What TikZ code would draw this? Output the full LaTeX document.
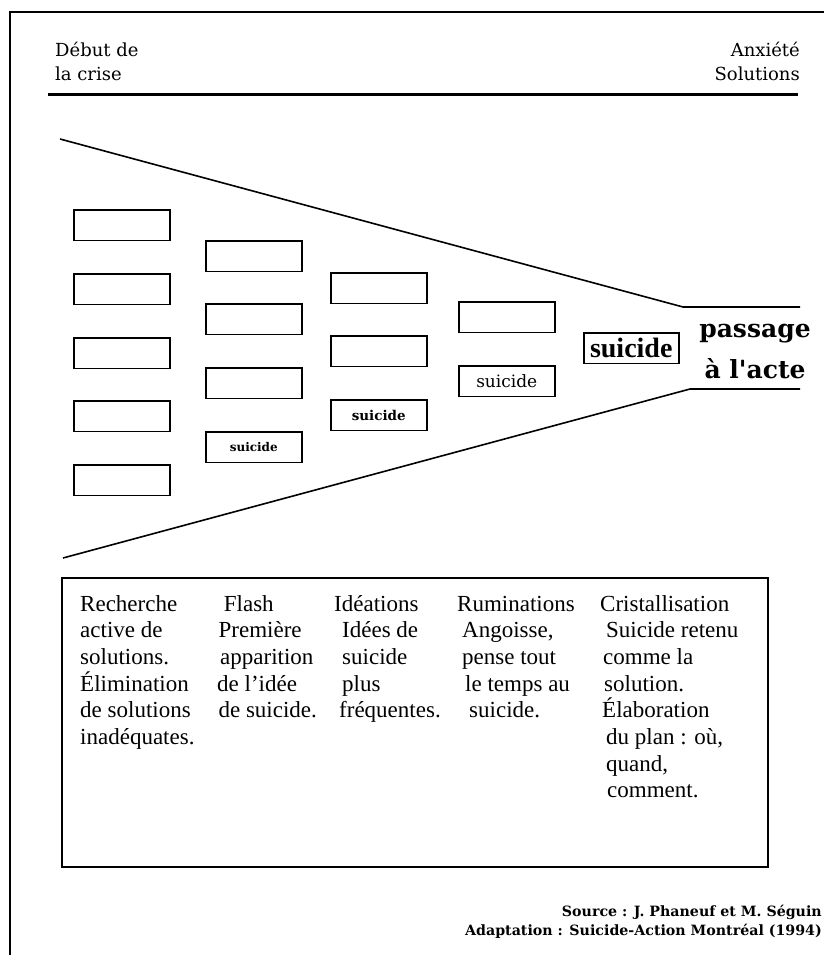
\documentclass[tikz,border=0pt]{standalone}
\usepackage{fontspec}
\setmainfont{Liberation Serif}
\newfontfamily\dvserif{DejaVu Serif}
\begin{document}
\begin{tikzpicture}[x=1pt,y=-1pt,
  choix/.style={draw,line width=1.5pt,minimum width=96pt,minimum height=30.5pt,inner sep=0pt,anchor=north west},
  etape/.style={anchor=base west,align=left,inner sep=0pt,font=\fontsize{23}{26.7}\selectfont},
  entete/.style={inner sep=0pt,font=\dvserif\fontsize{18}{24}\selectfont},
  pied/.style={anchor=base east,inner sep=0pt,font=\dvserif\bfseries\fontsize{14.2}{18}\selectfont}]
\useasboundingbox (0,0) rectangle (824,955);

\draw[line width=1.2pt] (10,955) -- (10,12) -- (824,12);

\node[entete,anchor=base west,align=left] (debut) at (55,81) {Début de\\la crise};
\node[entete,anchor=base east,align=right] (anxiete) at (800,81) {Anxiété\\Solutions};
\draw[line width=3pt] (48,95) -- (798,95);

\coordinate (ht) at (60,139);
\coordinate (hc) at (683,307);
\coordinate (hf) at (800,307);
\coordinate (bt) at (63,558);
\coordinate (bc) at (690,389);
\coordinate (bf) at (800,389);
\draw[line width=1.6pt] (ht) -- (hc) -- (hf);
\draw[line width=1.6pt] (bt) -- (bc) -- (bf);

\node[choix] (a1) at (73,209) {};
\node[choix] (a2) at (73,273) {};
\node[choix] (a3) at (73,337) {};
\node[choix] (a4) at (73,400) {};
\node[choix] (a5) at (73,464) {};

\node[choix] (b1) at (205,240) {};
\node[choix] (b2) at (205,303) {};
\node[choix] (b3) at (205,367) {};
\node[choix,font=\dvserif\bfseries\fontsize{12}{14}\selectfont] (b4) at (205,431) {suicide};

\node[choix] (c1) at (330,272) {};
\node[choix] (c2) at (330,335) {};
\node[choix,font=\dvserif\bfseries\fontsize{13.5}{16}\selectfont] (c3) at (330,399) {suicide};

\node[choix] (d1) at (458,301) {};
\node[choix,font=\dvserif\fontsize{17}{20}\selectfont] (d2) at (458,365) {suicide};

\node[choix,minimum width=95pt,font=\bfseries\fontsize{28}{30}\selectfont] (e1) at (583,332) {suicide};

\node[inner sep=0pt,anchor=base,align=center,font=\dvserif\bfseries\fontsize{25}{41}\selectfont] (acte) at (755,378) {passage\\à l\textquotesingle acte};

\node[draw,line width=1.5pt,minimum width=706pt,minimum height=289pt,inner sep=0pt,anchor=north west] (cadre) at (61,577) {};

\node[etape] (recherche) at (80,744.5) {Recherche\\active de\\solutions.\\Élimination\\de solutions\\inadéquates.};
\node[etape] (flash) at (217,717.8) {\hspace*{6.7pt}Flash\\\hspace*{1.4pt}Première\\\hspace*{3pt}apparition\\de l’idée\\\hspace*{1.4pt}de suicide.};
\node[etape] (ideations) at (334,717.8) {Idéations\\\hspace*{8pt}Idées de\\\hspace*{8pt}suicide\\\hspace*{8pt}plus\\\hspace*{5pt}fréquentes.};
\node[etape] (ruminations) at (457,717.8) {Ruminations\\\hspace*{5pt}Angoisse,\\\hspace*{5pt}pense tout\\\hspace*{8pt}le temps au\\\hspace*{12pt}suicide.};
\node[etape] (cristal) at (600,797.9) {Cristallisation\\\hspace*{6pt}Suicide retenu\\\hspace*{3pt}comme la\\\hspace*{4pt}solution.\\\hspace*{2pt}Élaboration\\\hspace*{6pt}du plan : où,\\\hspace*{6pt}quand,\\\hspace*{7pt}comment.};

\node[pied] (source) at (822,916) {Source : J. Phaneuf et M. Séguin};
\node[pied] (adapt) at (822,935) {Adaptation : Suicide-Action Montréal (1994)};
\end{tikzpicture}
\end{document}
